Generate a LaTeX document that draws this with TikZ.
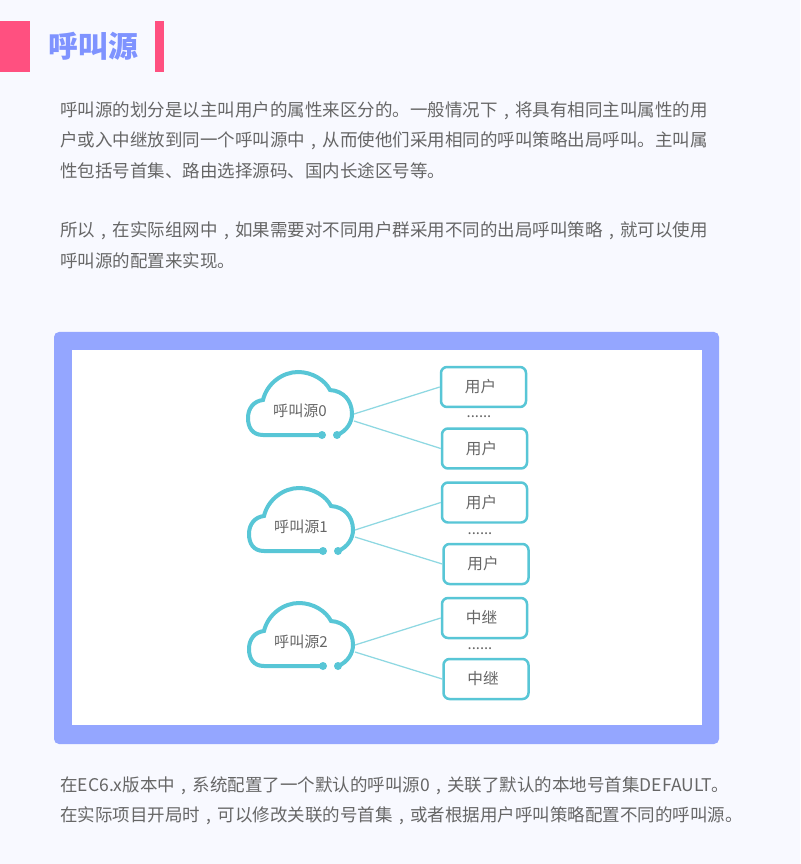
\documentclass[tikz,border=0pt]{standalone}
\usepackage{fontspec}
\setmainfont{Noto Sans CJK SC}
\usetikzlibrary{arrows,calc}
\definecolor{pagebg}{HTML}{F8F9FF}
\definecolor{barpink}{HTML}{FF5080}
\definecolor{titleblue}{HTML}{7F93FF}
\definecolor{frameblue}{HTML}{94A6FF}
\definecolor{cloudcyan}{HTML}{58C6D6}
\definecolor{linkcyan}{HTML}{8ED8E2}
\definecolor{bodygray}{HTML}{666666}
\newcommand{\pxfont}[1]{\fontsize{#1}{#1}\selectfont}
\newcommand{\zc}{\makebox[1em][c]{,}}
\tikzstyle{bodyline}=[anchor=west,inner sep=0,yshift=-0.01cm,text=bodygray,font=\pxfont{9.96}]
\tikzstyle{headline}=[anchor=west,inner sep=0,text=titleblue,font=\pxfont{17}\bfseries]
\tikzstyle{member}=[rectangle,draw=cloudcyan,fill=white,line width=0.05cm,minimum height=0.8cm,minimum width=1.7cm,rounded corners=0.12cm,inner sep=0,text=bodygray,font=\pxfont{8.9},execute at end node={\hspace*{0.12cm}}]
\tikzstyle{sourcelabel}=[inner sep=0,text=bodygray,font=\pxfont{8.6}]
\tikzstyle{moredots}=[inner sep=0,text=bodygray,font=\pxfont{8.4}]
\tikzstyle{link}=[linkcyan,line width=0.025cm]
\tikzset{
	sourcecloud/.pic={
		\draw[cloudcyan,line width=0.08cm,line cap=round] (22,24) -- (-37,24)
			.. controls (-48,24) and (-52,16) .. (-52,7)
			.. controls (-52,-3) and (-46,-10) .. (-37,-11)
			.. controls (-33,-28) and (-17,-39) .. (-2,-39)
			.. controls (12,-39) and (25,-31) .. (30,-21)
			.. controls (44,-20) and (52,-10) .. (52,3)
			.. controls (52,11) and (47,20) .. (37,24);
		\fill[cloudcyan] (22,24) circle (4);
		\fill[cloudcyan] (37,24) circle (4);
		\coordinate (-up) at (54,3);
		\coordinate (-down) at (54,10);
	}
}
\begin{document}
\begin{tikzpicture}[x=0.02cm,y=-0.02cm]
	\fill[pagebg] (0,0) rectangle (800,864);
	\useasboundingbox (0,0) rectangle (800,864);

	% heading
	\fill[barpink] (0,21) rectangle (30,72);
	\fill[barpink] (155,21) rectangle (164,72);
	\node[headline] (title) at (48,46) {呼叫源};

	\node[bodyline] (para1) at (60,110) {呼叫源的划分是以主叫用户的属性来区分的。一般情况下\zc 将具有相同主叫属性的用};
	\node[bodyline] (para2) at (60,140) {户或入中继放到同一个呼叫源中\zc 从而使他们采用相同的呼叫策略出局呼叫。主叫属};
	\node[bodyline] (para3) at (60,170) {性包括号首集、路由选择源码、国内长途区号等。};
	\node[bodyline] (para4) at (60,230) {所以\zc 在实际组网中\zc 如果需要对不同用户群采用不同的出局呼叫策略\zc 就可以使用};
	\node[bodyline] (para5) at (60,260) {呼叫源的配置来实现。};

	% frame
	\fill[frameblue,rounded corners=0.1cm] (54,332) rectangle (719,744);
	\fill[white] (72,350) rectangle (702,725);

	% source 0
	\pic (cloud0) at (300,411) {sourcecloud};
	\node[sourcelabel] (src0) at (300,411) {呼叫源0};
	\node[member] (user1) at (483.5,387) {用户};
	\node[member] (user2) at (484.5,448.5) {用户};
	\node[moredots] (dots0) at (479,417) {......};
	\draw[link] (cloud0-up) -- (user1.west);
	\draw[link] (cloud0-down) -- (user2.west);

	% source 1
	\pic (cloud1) at (301,527) {sourcecloud};
	\node[sourcelabel] (src1) at (301,527) {呼叫源1};
	\node[member] (user3) at (484.5,502.5) {用户};
	\node[member] (user4) at (486,564) {用户};
	\node[moredots] (dots1) at (480,534) {......};
	\draw[link] (cloud1-up) -- (user3.west);
	\draw[link] (cloud1-down) -- (user4.west);

	% source 2
	\pic (cloud2) at (301,642) {sourcecloud};
	\node[sourcelabel] (src2) at (301,642) {呼叫源2};
	\node[member] (relay1) at (484.5,618) {中继};
	\node[member] (relay2) at (486,679) {中继};
	\node[moredots] (dots2) at (480,649) {......};
	\draw[link] (cloud2-up) -- (relay1.west);
	\draw[link] (cloud2-down) -- (relay2.west);

	\node[bodyline] (note1) at (60,785) {在EC6.x版本中\zc 系统配置了一个默认的呼叫源0\zc 关联了默认的本地号首集DEFAULT。};
	\node[bodyline] (note2) at (60,815) {在实际项目开局时\zc 可以修改关联的号首集\zc 或者根据用户呼叫策略配置不同的呼叫源。};
\end{tikzpicture}
\end{document}
